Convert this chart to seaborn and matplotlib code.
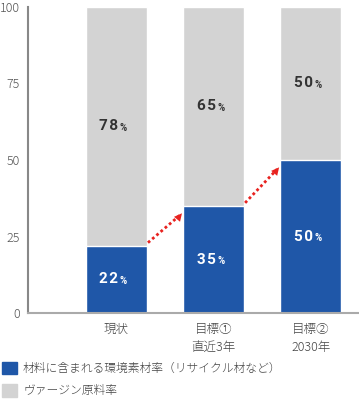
import matplotlib
matplotlib.use('Agg')
import matplotlib.pyplot as plt
import seaborn as sns
import pandas as pd
from matplotlib.patches import Patch

# chart data
categories = ['現状', '目標①\n直近3年', '目標②\n2030年']
recycled = [22, 35, 50]
virgin = [78, 65, 50]
legend_labels = ['材料に含まれる環境素材率（リサイクル材など）', 'ヴァージン原料率']
yticks = [0, 25, 50, 75, 100]

blue = '#1f57a8'
gray = '#d3d3d3'

sns.set_style('white')
plt.rcParams['font.family'] = ['Noto Sans CJK JP', 'DejaVu Sans']

df = pd.DataFrame({'cat': categories, 'recycled': recycled, 'virgin': virgin})
df['total'] = df['recycled'] + df['virgin']

fig = plt.figure(figsize=(3.59, 4.04), dpi=100)
ax = fig.add_axes([0.078, 0.225, 0.92, 0.758])

bw = 0.63
sns.barplot(data=df, x='cat', y='total', color=gray, width=bw, saturation=1, ax=ax)
sns.barplot(data=df, x='cat', y='recycled', color=blue, width=bw, saturation=1, ax=ax)

# value labels (digits spread a little, small % sign)
num_font = ['Roboto', 'DejaVu Sans']
for i, (r, v) in enumerate(zip(recycled, virgin)):
    for yv, val, col in [(r / 2, r, 'white'), (r + v / 2, v, '#333333')]:
        txt = '\u200a'.join(str(val))
        ax.annotate(txt, (i, yv), xytext=(1.5, 0), textcoords='offset points',
                    ha='right', va='center', fontsize=11, fontweight='bold',
                    color=col, family=num_font)
        ax.annotate('%', (i, yv), xytext=(2.5, -1), textcoords='offset points',
                    ha='left', va='center', fontsize=7, fontweight='bold',
                    color=col, family=num_font)

# red dotted arrows between bars
for i in range(len(recycled) - 1):
    x0, y0 = i + bw / 2 + 0.01, recycled[i] + 1
    x1, y1 = i + 1 - bw / 2 - 0.03, recycled[i + 1] - 3
    ax.plot([x0, x1], [y0, y1], color='#e8221f', lw=2, ls=(0, (1, 1)))
    ax.annotate('', xy=(x1 + 0.02, y1 + 0.6), xytext=(x1 - 0.05, y1 - 2.1),
                arrowprops=dict(arrowstyle='-|>', color='#e8221f', lw=0,
                                mutation_scale=14, shrinkA=0, shrinkB=0))

ax.set_xlim(-0.91, 2.49)
ax.set_ylim(0, 100)
ax.set_yticks(yticks)
ax.set_xlabel('')
ax.set_ylabel('')
ax.tick_params(axis='y', direction='in', length=10, width=1.2, color='#666666',
               labelsize=9, labelcolor='#555555', pad=6)
ax.tick_params(axis='x', length=0, labelsize=9, labelcolor='#444444', pad=7)
for lbl in ax.get_yticklabels():
    lbl.set_fontweight('light')
for lbl in ax.get_xticklabels():
    lbl.set_linespacing(1.5)
    lbl.set_va('top')
    lbl.set_fontweight('light')

sns.despine(ax=ax, top=True, right=True)
ax.spines['left'].set_color('#888888')
ax.spines['left'].set_linewidth(1.5)
ax.spines['bottom'].set_color('#aaaaaa')
ax.spines['bottom'].set_linewidth(1.5)

handles = [Patch(color=blue), Patch(color=gray)]
leg = fig.legend(handles, legend_labels, loc='upper left', bbox_to_anchor=(0.005, 1 - 362 / 404),
                 frameon=False, fontsize=8.5, handlelength=1.25, handleheight=1.25,
                 handletextpad=0.55, labelspacing=0.75, borderpad=0, borderaxespad=0,
                 labelcolor='#444444')
for t in leg.get_texts():
    t.set_fontweight('light')

plt.savefig('out.png', dpi=100)
